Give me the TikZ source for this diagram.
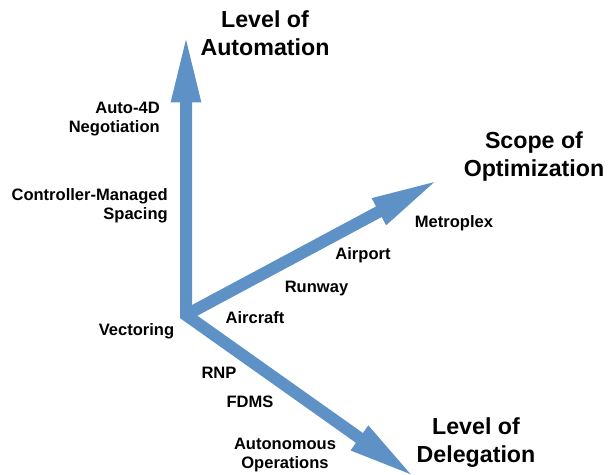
\documentclass[tikz,border=0pt]{standalone}
\usepackage{fontspec}
\setmainfont{Liberation Sans}
\usetikzlibrary{arrows.meta}
\definecolor{axisblue}{RGB}{94,146,199}
\tikzset{
  axis/.style={draw=axisblue, line width=9pt, line join=miter,
    arrows={-Triangle[length=52pt,width=20pt]}},
  axisboth/.style={draw=axisblue, line width=9pt, line join=miter,
    arrows={Triangle[length=52pt,width=20pt]-Triangle[length=52pt,width=20pt]}},
  title/.style={inner sep=0pt, align=center, font={\fontsize{17.4}{21}\selectfont\bfseries}},
  lbl/.style={inner sep=0pt, font={\fontsize{12.4}{14}\selectfont\bfseries}},
}
\begin{document}
\begin{tikzpicture}[x=0.75pt,y=-0.75pt]
\useasboundingbox (0,0) rectangle (608,475);
\coordinate (o) at (186,315);
\coordinate (up) at (186,33);
\coordinate (dn) at (416,478);
\coordinate (rt) at (440,179);
\draw[axis] (o) -- (rt);
\draw[axisboth] (up) -- (o) -- (dn);

\node[title] (tauto) at (265,33) {Level of\\Automation};
\node[title] (topt) at (534,157) {Scope of\\Optimization};
\node[title] (tdel) at (476,443) {Level of\\Delegation};

\node[lbl, anchor=east, align=right] (a4d) at (160,119) {Auto-4D\\Negotiation};
\node[lbl, anchor=east, align=right] (cms) at (168,205.5) {Controller-Managed\\Spacing};
\node[lbl, align=center] (auton) at (285,455) {Autonomous\\Operations};

\node[lbl, anchor=base] (metro) at (454,227) {Metroplex};
\node[lbl, anchor=base] (airport) at (363,259) {Airport};
\node[lbl, anchor=base] (runway) at (316.5,292) {Runway};
\node[lbl, anchor=base] (aircraft) at (255,323) {Aircraft};
\node[lbl, anchor=base] (vect) at (136.5,335) {Vectoring};
\node[lbl, anchor=base] (rnp) at (219,378) {RNP};
\node[lbl, anchor=base] (fdms) at (250,407) {FDMS};
\end{tikzpicture}
\end{document}
